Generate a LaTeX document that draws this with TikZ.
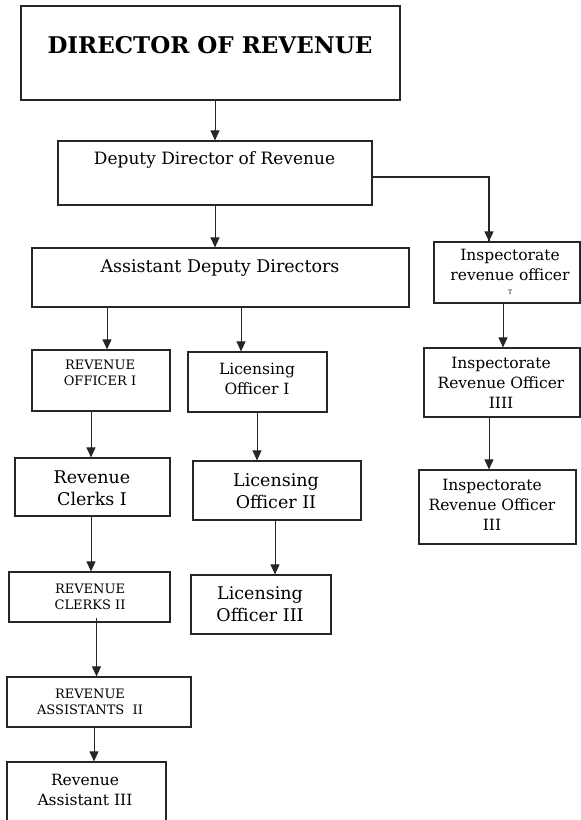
\documentclass[tikz,border=0pt]{standalone}
\usepackage{fontspec}
\setmainfont{DejaVu Serif}
\usetikzlibrary{arrows.meta}

\tikzset{
  box/.style={draw=black!85, line width=1.2pt, rectangle, inner sep=0pt},
  lbl/.style={align=center, inner sep=0pt},
  big/.style={font=\fontsize{17.5}{22}\selectfont},
  mid/.style={font=\fontsize{15.5}{20}\selectfont},
  small/.style={font=\fontsize{13}{16.5}\selectfont},
}

\begin{document}
\begin{tikzpicture}[x=1pt,y=-1pt]
      \useasboundingbox (0,0) rectangle (581,820);

      % boxes
      \begin{scope}[every node/.style={box}]
        \node[minimum width=379, minimum height=94] (1)  at (210.5,53)  {};
        \node[minimum width=314, minimum height=64] (2)  at (215,173)   {};
        \node[minimum width=377, minimum height=59] (3)  at (220.5,277.5) {};
        \node[minimum width=146, minimum height=61] (4)  at (507,272.5) {};
        \node[minimum width=138, minimum height=61] (5)  at (101,380.5) {};
        \node[minimum width=139, minimum height=60] (6)  at (257.5,382) {};
        \node[minimum width=156, minimum height=69] (7)  at (502,382.5) {};
        \node[minimum width=155, minimum height=58] (8)  at (92.5,487)  {};
        \node[minimum width=168, minimum height=59] (9)  at (277,490.5) {};
        \node[minimum width=157, minimum height=74] (10) at (497.5,507) {};
        \node[minimum width=161, minimum height=50] (11) at (89.5,597)  {};
        \node[minimum width=140, minimum height=59] (12) at (261,604.5) {};
        \node[minimum width=184, minimum height=50] (13) at (99,702)    {};
        \node[minimum width=159, minimum height=68] (14) at (86.5,796)  {};
      \end{scope}

      % texts
      \begin{scope}[every node/.style={lbl}]
        \node[font=\fontsize{23}{27}\selectfont\bfseries] (t1) at (210,45) {DIRECTOR OF REVENUE};
        \node[font=\fontsize{17}{20}\selectfont] (t2) at (214.5,160) {Deputy Director of Revenue};
        \node[font=\fontsize{17.5}{20}\selectfont] (t3) at (220,268) {Assistant Deputy Directors};
        \node[mid] (t4)  at (510,272)   {Inspectorate\\revenue officer\\[-6pt]{\fontsize{6}{6}\selectfont T}};
        \node[small] (t5) at (100,373)  {REVENUE\\OFFICER I};
        \node[mid] (t6)  at (257,379)   {Licensing\\Officer I};
        \node[mid] (t7)  at (501,383)   {Inspectorate\\Revenue Officer\\IIII};
        \node[big] (t8)  at (92,488)    {Revenue\\Clerks I};
        \node[big] (t9)  at (276,491)   {Licensing\\Officer II};
        \node[mid] (t10) at (492,505)   {Inspectorate\\Revenue Officer\\III};
        \node[small] (t11) at (90,597)  {REVENUE\\CLERKS II};
        \node[big] (t12) at (260,604)   {Licensing\\Officer III};
        \node[small] (t13) at (90,702)  {REVENUE\\ASSISTANTS~~II};
        \node[mid] (t14) at (85,790)    {Revenue\\Assistant III};
      \end{scope}

      % connectors
      \begin{scope}[every edge/.style={draw=black!85, line width=1pt, -{Triangle[length=10pt,width=9pt]}}]
        \path (1.south -| 2.north) edge (2.north);
        \path (2.south) edge (2.south |- 3.north);
        \path ([xshift=-113.5pt]3.south) edge ([xshift=6pt]5.north);
        \path ([xshift=20.5pt]3.south) edge ([xshift=-16.5pt]6.north);
        \path ([xshift=-4pt]4.south) edge ([xshift=1pt]7.north);
        \path ([xshift=-10pt]5.south) edge ([xshift=-1.5pt]8.north);
        \path ([xshift=-0.5pt]6.south) edge ([xshift=-20pt]9.north);
        \path ([xshift=-13pt]7.south) edge ([xshift=-8.5pt]10.north);
        \path ([xshift=-1.5pt]8.south) edge ([xshift=1.5pt]11.north);
        \path ([xshift=-2pt]9.south) edge ([xshift=14pt]12.north);
        \path ([xshift=7pt,yshift=5pt]11.south) edge ([xshift=-2.5pt]13.north);
        \path ([xshift=-5pt]13.south) edge ([xshift=7.5pt]14.north);
      \end{scope}
      \draw[draw=black!85, line width=1.8pt] ([yshift=-4pt]2.east) -| ([xshift=-18pt]4.north);
      \path ([xshift=-18pt,yshift=20pt]4.north) edge[draw=black!85, line width=1pt, -{Triangle[length=10pt,width=9pt]}] ([xshift=-18pt]4.north);

    \end{tikzpicture}
\end{document}
